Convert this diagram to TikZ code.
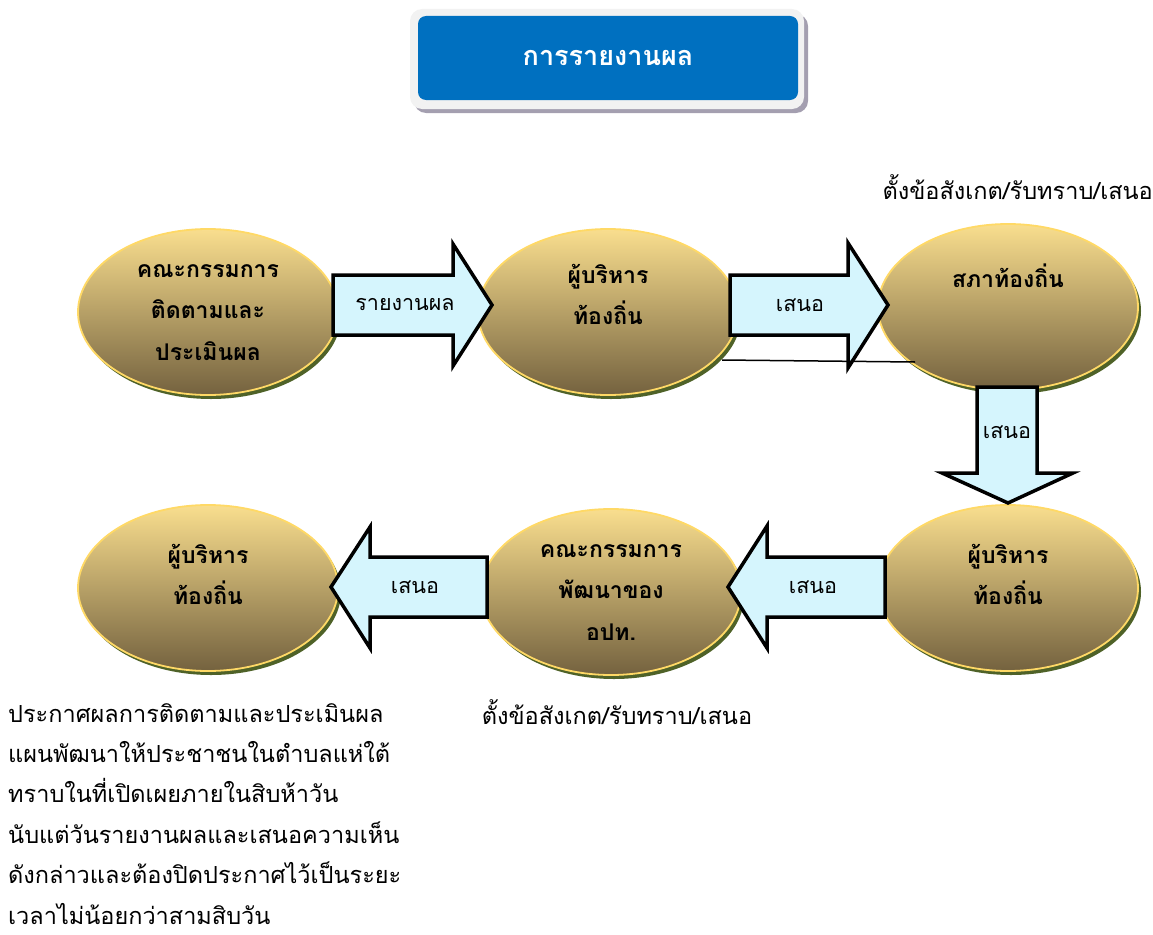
\documentclass[tikz,border=0pt]{standalone}
\usepackage{fontspec}
\setmainfont{Loma}[Script=Thai]
\usetikzlibrary{shapes.geometric,shadows}
\definecolor{elltop}{HTML}{F9DE8E}
\definecolor{ellbot}{HTML}{74623F}
\definecolor{elledge}{HTML}{FFD966}
\definecolor{ellshadow}{HTML}{4F6228}
\definecolor{arrowfill}{HTML}{D5F5FD}
\definecolor{titleblue}{HTML}{0070C0}
\definecolor{titleframe}{HTML}{F2F2F2}
\definecolor{titleshadow}{HTML}{A49FB0}
\tikzset{
  ellnode/.style={ellipse, minimum width=260pt, minimum height=166pt, inner sep=0pt,
    top color=elltop, bottom color=ellbot, draw=elledge, line width=1.8pt,
    drop shadow={shadow xshift=3pt, shadow yshift=-4pt, fill=ellshadow, opacity=1}},
  elltext/.style={anchor=north, align=center, font=\bfseries\fontsize{23}{41.5}\selectfont, inner sep=0pt},
  blockarrow/.style={draw=black, line width=3.5pt, fill=arrowfill, miter limit=10},
  arrowlabel/.style={font=\fontsize{21.5}{24}\selectfont, inner sep=0pt},
  note/.style={font=\fontsize{23.5}{26}\selectfont, inner sep=0pt}
}
\begin{document}
\begin{tikzpicture}[x=1pt,y=-1pt]
\useasboundingbox (0,0) rectangle (1153,934);
% title
\fill[titleshadow, rounded corners=12pt] (414,14) rectangle (808,113);
\fill[titleframe, rounded corners=12pt] (410,9) rectangle (804,109);
\node[fill=titleblue, rounded corners=8pt, minimum width=380pt, minimum height=84pt, inner sep=0pt,
  text=white, font=\bfseries\fontsize{27}{30}\selectfont] (title) at (608,58) {การรายงานผล};
% ellipses
\node[ellnode] (e1) at (208,312) {};
\node[ellnode] (e2) at (608,312) {};
\node[ellnode] (e3) at (1008,307) {};
\node[ellnode] (e4) at (1008,588) {};
\node[ellnode] (e5) at (611,592) {};
\node[ellnode] (e6) at (208,588) {};
% ellipse texts
\node[elltext] (t1) at (208,264) {คณะกรรมการ\\ติดตามและ\\ประเมินผล};
\node[elltext] (t2) at (608,264) {ผู้บริหาร\\ท้องถิ่น};
\node[elltext] (t3) at (1008,264) {สภาท้องถิ่น};
\node[elltext] (t4) at (1008,544) {ผู้บริหาร\\ท้องถิ่น};
\node[elltext] (t5) at (611,544) {คณะกรรมการ\\พัฒนาของ\\อปท.};
\node[elltext] (t6) at (208,544) {ผู้บริหาร\\ท้องถิ่น};
% block arrows
\draw[blockarrow] (333,275) -- (453,275) -- (453,244) -- (492,305) -- (453,366) -- (453,335) -- (333,335) -- cycle;
\node[arrowlabel] (a1) at (405,305) {รายงานผล};
\draw[blockarrow] (730,275) -- (848,275) -- (848,243) -- (888,305) -- (848,368) -- (848,335) -- (730,335) -- cycle;
\node[arrowlabel] (a2) at (800,305) {เสนอ};
\coordinate (lineend) at (915,362);
\draw[line width=1.5pt] (722,360) -- (lineend);
\draw[blockarrow] (977,387) -- (1037,387) -- (1037,473) -- (1073,473) -- (1008,503) -- (942,473) -- (977,473) -- cycle;
\node[arrowlabel] (a3) at (1007,432) {เสนอ};
\draw[blockarrow] (885,557) -- (767,557) -- (767,526) -- (728,587) -- (767,648) -- (767,617) -- (885,617) -- cycle;
\node[arrowlabel] (a4) at (813,587) {เสนอ};
\draw[blockarrow] (487,557) -- (370,557) -- (370,527) -- (331,587) -- (370,648) -- (370,617) -- (487,617) -- cycle;
\node[arrowlabel] (a5) at (415,587) {เสนอ};
% notes
\node[note, anchor=east] (n1) at (1153,187) {ตั้งข้อสังเกต/รับทราบ/เสนอ};
\node[note] (n2) at (617,712) {ตั้งข้อสังเกต/รับทราบ/เสนอ};
\node[note, anchor=north west, align=left, font=\fontsize{23.5}{40.4}\selectfont] (n3) at (8,703)
 {ประกาศผลการติดตามและประเมินผล\\แผนพัฒนาให้ประชาชนในตำบลแห่ใต้\\ทราบในที่เปิดเผยภายในสิบห้าวัน\\นับแต่วันรายงานผลและเสนอความเห็น\\ดังกล่าวและต้องปิดประกาศไว้เป็นระยะ\\เวลาไม่น้อยกว่าสามสิบวัน};
\end{tikzpicture}
\end{document}
